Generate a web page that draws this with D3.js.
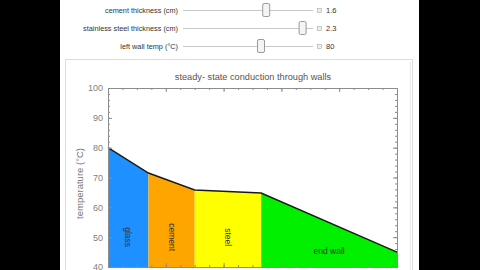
<!DOCTYPE html>
<html>
<head>
<meta charset="utf-8">
<script src="https://cdn.jsdelivr.net/npm/d3@7"></script>
<style>
    body { margin: 0; background: #000; }
    svg { display: block; font-family: "Liberation Sans", Arial, sans-serif; }
</style>
</head>
<body>
<div id="chart"></div>
<script>
// layers of the wall, left to right
const layerNames = ['glass', 'cement', 'steel', 'end wall'];
const layerColors = ['#1e90ff', '#ffa500', '#ffff00', '#00f000'];
// boundary positions (cm) and temperature at each boundary (°C)
const boundaries = [0, 1.4, 3.0, 5.3, 10];
const boundaryTemps = [80, 71.5, 65.8, 64.8, 45];

// slider controls above the plot (first one is scrolled off the top, only its thumb shows)
const controlLabels = ['', 'cement thickness (cm)', 'stainless steel thickness (cm)', 'left wall temp (°C)'];
const controlValues = [1.4, 1.6, 2.3, 80];
const controlRanges = [[0, 2.5], [0, 2.5], [0, 2.5], [50, 100]];

const yTicks = [40, 50, 60, 70, 80, 90, 100];

const width = 480, height = 270;

const svg = d3.select('#chart').append('svg')
    .attr('width', width)
    .attr('height', height);

// white panel
svg.append('rect').attr('x', 60).attr('y', 0).attr('width', 359).attr('height', height).attr('fill', '#fff');
svg.append('rect').attr('x', 65.5).attr('y', 59.5).attr('width', 347).attr('height', 230)
    .attr('fill', 'none').attr('stroke', '#dcdcdc');
svg.append('line').attr('x1', 410.5).attr('x2', 410.5).attr('y1', 62).attr('y2', height).attr('stroke', '#ececec');

// sliders
const track = d3.scaleLinear().range([183, 313]);
const ctrl = svg.append('g');
controlLabels.forEach((label, i) => {
    const cy = -8 + i * 18;
    track.domain(controlRanges[i]);
    const g = ctrl.append('g');
    g.append('line').attr('x1', 183).attr('x2', 313).attr('y1', cy + 0.5).attr('y2', cy + 0.5)
        .attr('stroke', '#c8c8c8').attr('stroke-width', 1);
    g.append('rect').attr('x', track(controlValues[i]) - 3.5).attr('y', cy - 6.5).attr('width', 7).attr('height', 13)
        .attr('rx', 1.5).attr('fill', '#f4f4f4').attr('stroke', '#9a9a9a');
    if (!label) return;
    g.append('text').attr('x', 178).attr('y', cy + 3).attr('text-anchor', 'end')
        .attr('font-size', 7.3).attr('fill', '#333').text(label);
    g.append('rect').attr('x', 317.5).attr('y', cy - 1.5).attr('width', 4).attr('height', 4)
        .attr('fill', '#eee').attr('stroke', '#aaa').attr('stroke-width', 0.6);
    g.append('text').attr('x', 326).attr('y', cy + 3).attr('font-size', 7.5).attr('fill', '#333')
        .text(controlValues[i]);
});

// plot
const x = d3.scaleLinear().domain([0, 10]).range([108, 397]);
const y = d3.scaleLinear().domain([40, 100]).range([267, 88]);

const plot = svg.append('g');

const layers = layerNames.map((name, i) => ({
    name: name,
    color: layerColors[i],
    x0: boundaries[i], x1: boundaries[i + 1],
    t0: boundaryTemps[i], t1: boundaryTemps[i + 1]
}));

plot.selectAll('.layer').data(layers).enter().append('path')
    .attr('class', 'layer')
    .attr('fill', (d) => d.color)
    .attr('d', (d) => `M${x(d.x0)},${y(40)}L${x(d.x0)},${y(d.t0)}L${x(d.x1)},${y(d.t1)}L${x(d.x1)},${y(40)}Z`);

// temperature profile line
plot.append('path')
    .datum(boundaries.map((b, i) => [b, boundaryTemps[i]]))
    .attr('fill', 'none').attr('stroke', '#1a1a1a').attr('stroke-width', 1.4)
    .attr('d', d3.line().x((d) => x(d[0])).y((d) => y(d[1])));

// layer labels
plot.selectAll('.lbl').data(layers).enter().append('text')
    .attr('class', 'lbl')
    .attr('font-size', 8.5)
    .attr('fill', '#333')
    .attr('text-anchor', 'middle')
    .attr('dominant-baseline', 'central')
    .attr('transform', (d) => d.name === 'end wall'
        ? `translate(${x((d.x0 + d.x1) / 2)},${y(45.3)})`
        : `translate(${x((d.x0 + d.x1) / 2)},${y(50)}) rotate(90)`)
    .text((d) => d.name);

// frame axes
const frame = '#8c8c8c';
const yMinor = d3.range(40, 100.1, 2);
const xMinor = d3.range(0, 10.01, 0.5);

const leftAxis = d3.axisLeft(y).tickValues(yTicks).tickSize(-4).tickPadding(5);
const gl = svg.append('g').attr('transform', `translate(${x(0)},0)`).call(leftAxis);
gl.append('g').call(d3.axisLeft(y).tickValues(yMinor).tickSize(-2).tickFormat(''));

const gr = svg.append('g').attr('transform', `translate(${x(10)},0)`);
gr.call(d3.axisRight(y).tickValues(yTicks).tickSize(-4).tickFormat(''));
gr.append('g').call(d3.axisRight(y).tickValues(yMinor).tickSize(-2).tickFormat(''));

const gt = svg.append('g').attr('transform', `translate(0,${y(100)})`);
gt.call(d3.axisTop(x).ticks(5).tickSize(-4).tickFormat(''));
gt.append('g').call(d3.axisTop(x).tickValues(xMinor).tickSize(-2).tickFormat(''));

const gb = svg.append('g').attr('transform', `translate(0,${y(40)})`);
gb.call(d3.axisBottom(x).ticks(5).tickSize(-4).tickFormat(''));
gb.append('g').call(d3.axisBottom(x).tickValues(xMinor).tickSize(-2).tickFormat(''));

svg.selectAll('.domain').attr('stroke', frame);
svg.selectAll('.tick line').attr('stroke', frame);
svg.selectAll('.tick text').attr('fill', '#808080').attr('font-size', 9)
    .attr('font-family', '"Liberation Sans", Arial, sans-serif');

// title and axis label
svg.append('text').attr('x', 253).attr('y', 80).attr('text-anchor', 'middle')
    .attr('font-size', 9.2).attr('fill', '#555').text('steady- state conduction through walls');

svg.append('text').attr('transform', `translate(83,${y(68)}) rotate(-90)`)
    .attr('text-anchor', 'middle').attr('font-size', 9.5).attr('fill', '#777')
    .text('temperature (°C)');
</script>
</body>
</html>
